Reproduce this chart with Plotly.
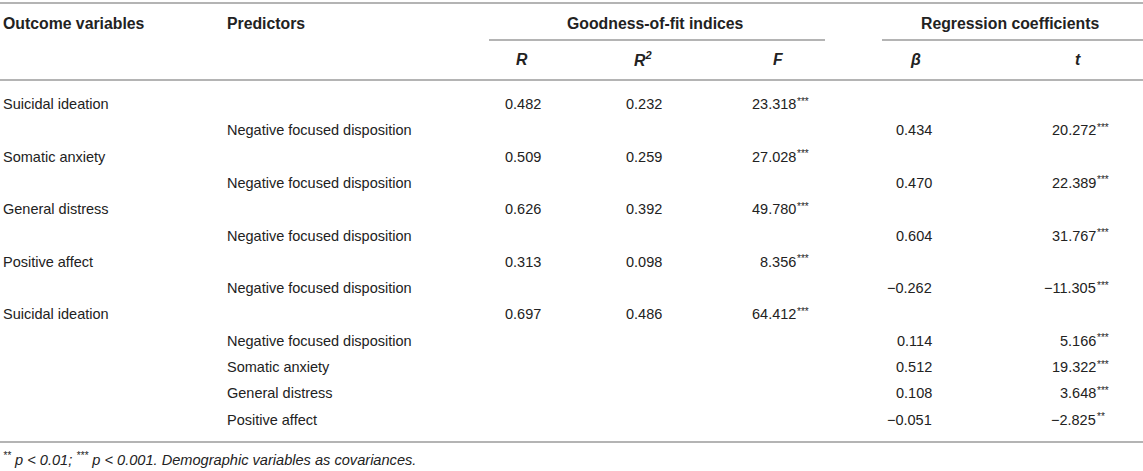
import plotly.graph_objects as go

# table content
outcomes = ["Suicidal ideation", "", "Somatic anxiety", "", "General distress", "",
            "Positive affect", "", "Suicidal ideation", "", "", "", ""]
predictors = ["", "Negative focused disposition", "", "Negative focused disposition", "",
              "Negative focused disposition", "", "Negative focused disposition", "",
              "Negative focused disposition", "Somatic anxiety", "General distress", "Positive affect"]
r_vals = [0.482, None, 0.509, None, 0.626, None, 0.313, None, 0.697, None, None, None, None]
r2_vals = [0.232, None, 0.259, None, 0.392, None, 0.098, None, 0.486, None, None, None, None]
f_vals = [23.318, None, 27.028, None, 49.780, None, 8.356, None, 64.412, None, None, None, None]
f_stars = ["***", "", "***", "", "***", "", "***", "", "***", "", "", "", ""]
beta_vals = [None, 0.434, None, 0.470, None, 0.604, None, -0.262, None, 0.114, 0.512, 0.108, -0.051]
t_vals = [None, 20.272, None, 22.389, None, 31.767, None, -11.305, None, 5.166, 19.322, 3.648, -2.825]
t_stars = ["", "***", "", "***", "", "***", "", "***", "", "***", "***", "***", "**"]

group_headers = ["Goodness-of-fit indices", "Regression coefficients"]
col_headers = ["R", "R<sup>2</sup>", "F", "β", "t"]
footnote = ("<sup>**</sup> p < 0.01; <sup>***</sup> p < 0.001. "
            "Demographic variables as covariances.")

W, H = 1143, 471
FONT = "Liberation Sans, Arial, sans-serif"
TXT = "#222222"
LINE = "#b4b4b4"

y0, dy = 104, 26.3
col_centers = [522, 643, 778, 915, 1078]
num_right = [542, 663, 797, 933, 1097]


def fmt(v):
    if v is None:
        return ""
    s = f"{abs(v):.3f}"
    return ("\u2212" + s) if v < 0 else s


fig = go.Figure()
fig.add_trace(go.Scatter(x=[0, W], y=[0, H], mode="markers", marker=dict(opacity=0),
                         hoverinfo="skip", showlegend=False))

ann = []


def add(x, y, text, anchor="left", size=14.5, weight="normal", style="normal"):
    ann.append(dict(x=x, y=y, xref="x", yref="y", text=text, showarrow=False,
                    xanchor=anchor, yanchor="middle", borderpad=0,
                    font=dict(family=FONT, size=size, color=TXT,
                              weight=weight, style=style)))


# header
add(2, 23, "Outcome variables", size=15.8, weight="bold")
add(226, 23, "Predictors", size=15.8, weight="bold")
add(655, 23, group_headers[0], anchor="center", size=15.8, weight="bold")
add(1010, 23, group_headers[1], anchor="center", size=15.8, weight="bold")
for cx, h in zip(col_centers, col_headers):
    add(cx, 59, h, anchor="center", size=15.8, weight="bold", style="italic")

# body
cols = [r_vals, r2_vals, f_vals, beta_vals, t_vals]
stars = [None, None, f_stars, None, t_stars]
for i in range(len(outcomes)):
    y = y0 + i * dy
    if outcomes[i]:
        add(2, y, outcomes[i])
    if predictors[i]:
        add(226, y, predictors[i])
    for c, vals in enumerate(cols):
        s = fmt(vals[i])
        if not s:
            continue
        add(num_right[c], y, s, anchor="right")
        if stars[c] is not None and stars[c][i]:
            add(num_right[c] - 1, y - 3, stars[c][i], anchor="left", size=10)

add(2, 459, footnote, size=14.6, style="italic")

lines = [
    (0, W, 3),
    (489, 825, 40),
    (882, W, 40),
    (0, W, 80),
    (0, W, 442),
]
shapes = [dict(type="line", xref="x", yref="y", x0=a, x1=b, y0=y, y1=y,
               line=dict(color=LINE, width=2)) for a, b, y in lines]

fig.update_layout(
    width=W, height=H,
    margin=dict(l=0, r=0, t=0, b=0),
    paper_bgcolor="white", plot_bgcolor="white",
    xaxis=dict(range=[0, W], visible=False, fixedrange=True),
    yaxis=dict(range=[H, 0], visible=False, fixedrange=True),
    annotations=ann, shapes=shapes,
)

# page body has a default 8px margin; drop it so the table sits at the corner
fig.write_html("out.html", post_script="document.body.style.margin='0';",
               config={"displayModeBar": False})
